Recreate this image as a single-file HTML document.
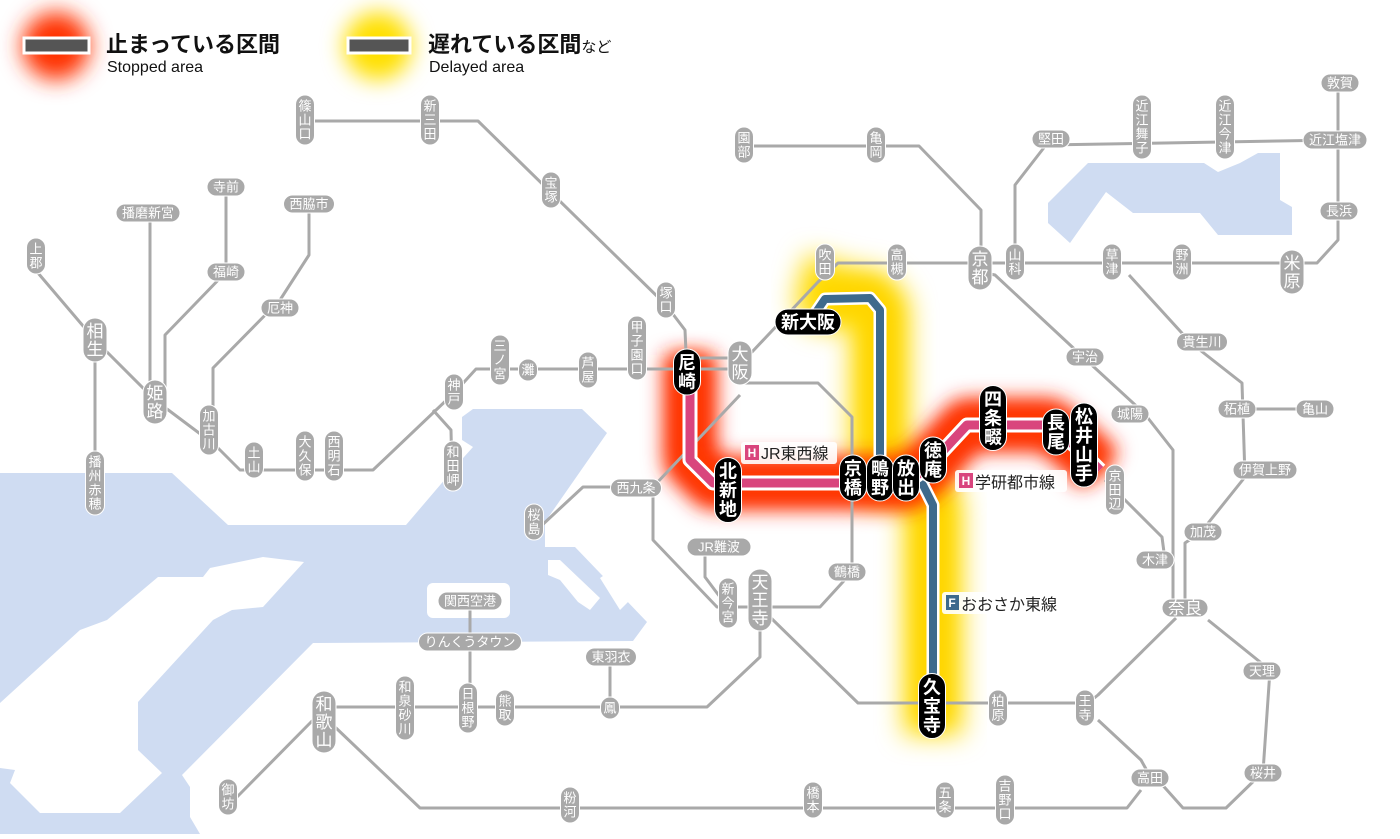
<!DOCTYPE html>
<html><head><meta charset="utf-8">
<style>
html,body{margin:0;padding:0;background:#fff;}
body{width:1400px;height:834px;overflow:hidden;font-family:"Liberation Sans","Noto Sans CJK JP",sans-serif;}
svg text{font-family:"Liberation Sans","Noto Sans CJK JP",sans-serif;}
</style></head>
<body>
<svg id="m" width="1400" height="834" viewBox="0 0 1400 834" xmlns="http://www.w3.org/2000/svg">
<defs>
<filter id="bR" x="-50%" y="-50%" width="200%" height="200%"><feGaussianBlur stdDeviation="10"/></filter>
<filter id="bY" x="-50%" y="-50%" width="200%" height="200%"><feGaussianBlur stdDeviation="13"/></filter>
<filter id="bL" x="-80%" y="-80%" width="260%" height="260%"><feGaussianBlur stdDeviation="11"/></filter>
</defs>
<g fill="#cfdcf2">
<polygon points="0,473 172,473 228,525 406,525 464,457 473,447 462,440 462,417 473,409 582,409 607,433 545,522 545,547 575,547 647,622 633,641 313,643 182,775 190,787 190,817 200,834 0,834"/>
<polygon points="1048,203 1088,163 1204,163 1218,172 1240,163 1258,153 1280,153 1280,200 1292,207 1292,235 1218,235 1200,213 1133,213 1106,192 1070,243 1048,223"/>
</g>
<g fill="#fff">
<polygon points="0,703 80,630 107,620 158,577 203,577 210,568 263,557 304,562 263,607 232,610 213,620 147,692 138,702 138,750 162,773 120,813 40,813 10,783 15,770 0,768"/>
<rect x="427" y="583" width="83" height="35" rx="6"/>
<polygon points="548,560 560,560 600,598 590,610 578,602 560,580 548,575"/>
<polygon points="600,578 612,570 630,600 620,610"/>
<polygon points="572,520 592,500 596,505 580,528"/>
</g>
<g id="glow"></g>
<g id="lines" fill="none" stroke="#a9a9a9" stroke-width="3" stroke-linejoin="round"></g>
<g id="col" fill="none" stroke-linejoin="round"></g>
<g id="st"></g>
<g>
<rect x="741" y="442" width="96" height="22" rx="3" fill="#fff" opacity="0.9"/>
<rect x="745" y="445" width="14" height="15" fill="#d9457d"/>
<text x="752" y="457" font-size="12" fill="#fff" text-anchor="middle" font-weight="bold">H</text>
<text x="761" y="459" font-size="16" fill="#222">JR東西線</text>
<rect x="955" y="470" width="112" height="22" rx="3" fill="#fff" opacity="0.9"/>
<rect x="959" y="473" width="14" height="15" fill="#d9457d"/>
<text x="966" y="485" font-size="12" fill="#fff" text-anchor="middle" font-weight="bold">H</text>
<text x="975" y="488" font-size="16" fill="#222">学研都市線</text>
<rect x="942" y="592" width="130" height="22" rx="3" fill="#fff" opacity="0.9"/>
<rect x="946" y="595" width="13" height="15" fill="#3e6a8c"/>
<text x="952" y="607" font-size="12" fill="#fff" text-anchor="middle" font-weight="bold">F</text>
<text x="961" y="610" font-size="16" fill="#222">おおさか東線</text>
</g>
<g>
<circle cx="56" cy="46" r="34" fill="#ff3300" filter="url(#bL)"/>
<rect x="24" y="38" width="65" height="15" fill="#555" stroke="#fff" stroke-width="3"/>
<text x="106" y="52" font-size="22" fill="#111" font-weight="bold">止まっている区間</text>
<text x="107" y="72" font-size="16" fill="#111">Stopped area</text>
<circle cx="378" cy="46" r="34" fill="#ffe000" filter="url(#bL)"/>
<rect x="348" y="38" width="62" height="15" fill="#555" stroke="#fff" stroke-width="3"/>
<text x="428" y="52" font-size="22" fill="#111" font-weight="bold">遅れている区間<tspan font-size="15" font-weight="normal">など</tspan></text>
<text x="429" y="72" font-size="16" fill="#111">Delayed area</text>
</g>
</svg>
<script>
var NS="http://www.w3.org/2000/svg";
function el(p,t,a,txt){var e=document.createElementNS(NS,t);for(var k in a)e.setAttribute(k,a[k]);if(txt!=null)e.textContent=txt;document.getElementById(p).appendChild(e);return e;}
var L=[
"305,121 478,121 666,305 685,330 687,375",
"740,369 476,369 455,392 373,470 240,470 215,445 155,400 95,340 38,273",
"687,358 740,358",
"95,340 95,500",
"150,213 150,400",
"226,187 226,272 165,335 165,400",
"309,204 309,255 280,300 213,368 213,440",
"433,410 451,430 452,475",
"740,362 752,352 818,282 838,263 1317,263 1338,240 1338,80",
"744,146 919,146 981,210 981,262",
"1015,262 1015,185 1046,145 1338,140",
"981,272 995,275 1083,357 1144,413 1173,450 1173,608",
"1105,480 1120,495 1162,537 1165,560",
"1129,275 1191,343 1242,383 1245,477 1201,532 1185,543 1185,608",
"1237,409 1315,409",
"1208,620 1270,670 1263,772 1226,808 1183,808 1158,780",
"1176,618 1098,695 1088,703",
"1098,720 1141,760 1151,778",
"1141,790 1127,808 420,808 335,727",
"1088,703 858,703 770,617 760,623",
"740,383 818,383 852,417 852,480",
"852,480 852,572 820,607 717,607 653,540 653,487 740,395",
"657,487 583,487 540,527",
"705,547 705,577 720,597",
"760,600 760,657 707,707 324,707",
"610,658 610,708",
"470,601 470,708",
"315,718 237,797"
];
L.forEach(function(p){el("lines","polyline",{points:p});});
var blue="812,318 825,299 870,298 880,310 880,475 906,475 923,485 933,505 933,700";
var pink="690,355 690,460 713,483 906,483 927,468 967,425 1049,425 1080,450 1100,470";
el("glow","polyline",{points:"835,262 825,300 870,298 880,310 880,475 906,475 923,485 933,505 933,735",fill:"none",stroke:"#ffdc00","stroke-width":58,filter:"url(#bY)","stroke-linejoin":"round"});
el("glow","polyline",{points:"825,300 870,298 880,310 880,475 906,475 923,485 933,505 933,720",fill:"none",stroke:"#ffd400","stroke-width":30,filter:"url(#bR)","stroke-linejoin":"round"});
el("glow","polyline",{points:pink,fill:"none",stroke:"#ff2a00","stroke-width":52,filter:"url(#bR)","stroke-linejoin":"round"});
el("glow","polyline",{points:pink,fill:"none",stroke:"#ff3a00","stroke-width":30,filter:"url(#bR)","stroke-linejoin":"round"});
el("col","polyline",{points:blue,stroke:"#fff","stroke-width":13});
el("col","polyline",{points:blue,stroke:"#3e6a8c","stroke-width":8});
el("col","polyline",{points:pink,stroke:"#fff","stroke-width":15});
el("col","polyline",{points:pink,stroke:"#d9457d","stroke-width":9});
function st(n,x,y,v,k){
 var ch=Array.from(n);var fs,lh,w,bg,fg,fw="normal";
 if(k=="b"){fs=18;lh=19;w=27;bg="#000";fg="#fff";fw="bold";}
 else if(k=="L"){fs=17;lh=18;w=24;bg="#a9a9a9";fg="#fff";}
 else {fs=13;lh=14;w=19;bg="#a9a9a9";fg="#fff";}
 if(v){
  var h=ch.length*lh+8;var t=y-h/2;
  el("st","rect",{x:x-w/2,y:t,width:w,height:h,rx:w/2,fill:bg,stroke:"#fff","stroke-width":1});
  ch.forEach(function(c,i){el("st","text",{x:x,y:t+4+(i+0.5)*lh+fs*0.36,"font-size":fs,fill:fg,"text-anchor":"middle","font-weight":fw},c);});
 }else{
  var hh=k=="b"?26:18;var ww=ch.length*fs+12;
  el("st","rect",{x:x-ww/2,y:y-hh/2,width:ww,height:hh,rx:hh/2,fill:bg,stroke:"#fff","stroke-width":1});
  el("st","text",{x:x,y:y+fs*0.36,"font-size":fs,fill:fg,"text-anchor":"middle","font-weight":fw},n);
 }
}
var V=[["篠山口",305,120],["新三田",430,120],["宝塚",551,190],["塚口",666,300],["甲子園口",637,348],["芦屋",588,370],["灘",528,370],["三ノ宮",500,360],["神戸",454,392],["和田岬",453,466],["西明石",334,456],["大久保",305,456],["土山",254,460],["加古川",209,430],["上郡",36,256],["播州赤穂",95,483],["吹田",825,262],["高槻",897,262],["山科",1015,262],["草津",1112,262],["野洲",1182,262],["園部",744,145],["亀岡",876,145],["近江舞子",1142,127],["近江今津",1225,127],["京田辺",1115,490],["桜島",534,522],["新今宮",728,603],["和泉砂川",405,708],["日根野",468,708],["熊取",505,708],["鳳",610,708],["御坊",228,797],["粉河",570,805],["橋本",813,800],["五条",945,800],["吉野口",1005,800],["柏原",998,708],["王寺",1085,708]];
V.forEach(function(s){st(s[0],s[1],s[2],true,"s");});
var VL=[["姫路",155,402],["相生",95,340],["大阪",740,363],["京都",980,268],["米原",1292,272],["天王寺",760,600],["和歌山",324,722]];
VL.forEach(function(s){st(s[0],s[1],s[2],true,"L");});
var H=[["寺前",226,187],["播磨新宮",148,213],["西脇市",309,204],["福崎",226,272],["厄神",280,308],["西九条",636,488],["JR難波",719,547],["鶴橋",847,572],["関西空港",470,601],["りんくうタウン",470,642],["東羽衣",611,657],["堅田",1051,139],["近江塩津",1335,140],["敦賀",1340,83],["長浜",1339,211],["宇治",1085,357],["貴生川",1202,342],["城陽",1130,414],["柘植",1237,409],["亀山",1315,409],["伊賀上野",1265,470],["加茂",1203,532],["木津",1155,560],["天理",1262,671],["高田",1150,778],["桜井",1263,773]];
H.forEach(function(s){st(s[0],s[1],s[2],false,"s");});
st("奈良",1185,608,false,"L");
var B=[["尼崎",687,372],["北新地",728,490],["京橋",853,478],["鴫野",880,478],["放出",906,478],["徳庵",933,460],["四条畷",993,418],["長尾",1056,432],["松井山手",1084,445],["久宝寺",932,706]];
B.forEach(function(s){st(s[0],s[1],s[2],true,"b");});
st("新大阪",808,322,false,"b");
</script>
</body></html>
